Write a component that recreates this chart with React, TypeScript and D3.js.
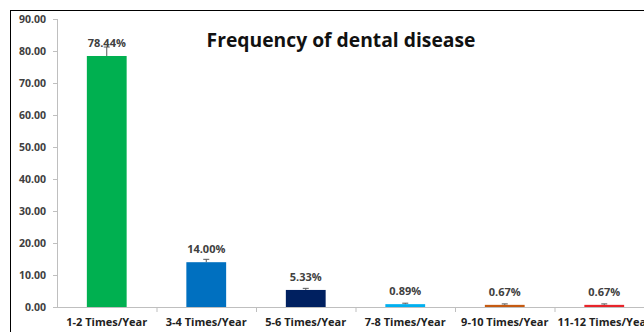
import React from "react";
import * as d3 from "d3";

const categories = ["1-2 Times/Year", "3-4 Times/Year", "5-6 Times/Year", "7-8 Times/Year", "9-10 Times/Year", "11-12 Times/Year"];
const values = [78.44, 14.0, 5.33, 0.89, 0.67, 0.67];
const errors = [2.8, 0.9, 0.5, 0.3, 0.3, 0.3];
const barColors = ["#00B050", "#0070C0", "#002060", "#00B0F0", "#C55A11", "#E8242A"];
const yTicks = [0, 10, 20, 30, 40, 50, 60, 70, 80, 90];

const W = 644;
const H = 332;
const FONT = "'Open Sans', 'Noto Sans', sans-serif";

export default function App() {
  const x0 = 57;
  const band = 99.5;
  const x = d3
    .scaleBand<string>()
    .domain(categories)
    .range([x0, x0 + band * categories.length])
    .paddingInner(0.6)
    .paddingOuter(0.3);
  const y = d3.scaleLinear().domain([0, 90]).range([307, 19]);
  const bw = x.bandwidth();

  return (
    <svg width={W} height={H} style={{ position: "absolute", left: 0, top: 0, background: "#fff" }}>
      <rect x={10.5} y={10.5} width={700} height={400} fill="#fff" stroke="#000" strokeWidth={1} />
      <text x={341} y={47} textAnchor="middle" fontFamily={FONT} fontWeight={700} fontSize={19.3} fill="#111">
        Frequency of dental disease
      </text>

      {/* y axis */}
      <line x1={x0 + 0.5} x2={x0 + 0.5} y1={y(90)} y2={y(0)} stroke="#bfbfbf" />
      {yTicks.map((t) => (
        <g key={t}>
          <line x1={x0 - 4} x2={x0} y1={Math.round(y(t)) + 0.5} y2={Math.round(y(t)) + 0.5} stroke="#bfbfbf" />
          <text x={46} y={y(t)} dy="0.35em" textAnchor="end" fontFamily={FONT} fontWeight={700} fontSize={10.5} fill="#404040">
            {t.toFixed(2)}
          </text>
        </g>
      ))}

      {/* x axis */}
      <line x1={x0} x2={W + 20} y1={y(0) + 0.5} y2={y(0) + 0.5} stroke="#bfbfbf" />
      {categories.map((c, i) => (
        <line key={"t" + c} x1={x0 + band * (i + 1) + 0.5} x2={x0 + band * (i + 1) + 0.5} y1={y(0)} y2={y(0) + 5} stroke="#bfbfbf" />
      ))}

      {categories.map((c, i) => {
        const bx = x(c)!;
        const cx = bx + bw / 2;
        const top = y(values[i]);
        const et = y(values[i] + errors[i]);
        return (
          <g key={c}>
            <rect x={bx} y={top} width={bw} height={y(0) - top} fill={barColors[i]} />
            <line x1={cx} x2={cx} y1={top} y2={et} stroke="#595959" strokeWidth={1} />
            <line x1={cx - 3} x2={cx + 3} y1={et} y2={et} stroke="#595959" strokeWidth={1} />
            <text x={cx} y={top - 13} dy="0.35em" textAnchor="middle" fontFamily={FONT} fontWeight={700} fontSize={11} fill="#404040">
              {values[i].toFixed(2)}%
            </text>
            <text x={cx} y={322} dy="0.35em" textAnchor="middle" fontFamily={FONT} fontWeight={700} fontSize={11} fill="#222">
              {c}
            </text>
          </g>
        );
      })}
    </svg>
  );
}
